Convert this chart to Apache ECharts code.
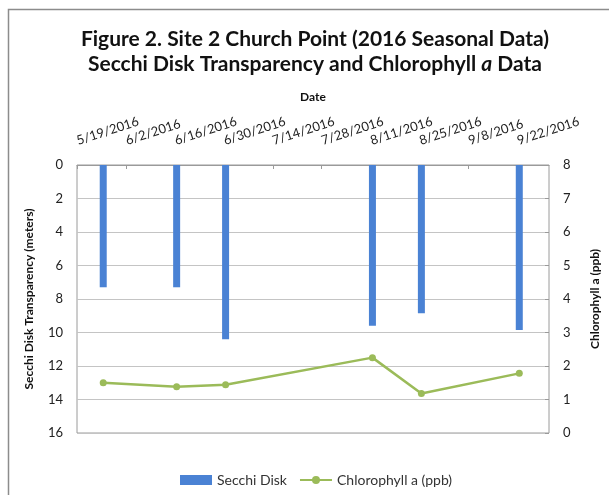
<!DOCTYPE html>
<html>
<head>
    <meta charset="utf-8">
    <script src="https://cdn.jsdelivr.net/npm/echarts@6/dist/echarts.min.js"></script>
    <style>
        html, body { margin: 0; padding: 0; background: #fff; }
        #chart { width: 609px; height: 495px; }
    </style>
</head>
<body>
    <div id="chart"></div>
<script type="text/javascript">
    // sampling dates and readings
    var sampleDates = ['5/26/2016', '6/16/2016', '6/30/2016', '8/11/2016', '8/25/2016', '9/22/2016'];
    var secchiDepth = [7.3, 7.3, 10.4, 9.6, 8.85, 9.85];
    var chlorophyll = [1.5, 1.38, 1.44, 2.25, 1.18, 1.78];

    // date axis: first tick date, tick step and range in days
    var axisStart = '5/19/2016';
    var tickDays = 14;
    var axisDays = 135;

    var depthTicks = [0, 16, 2];
    var chlTicks = [0, 8, 1];

    var DAY = 86400000;
    function parseDate(s) {
        var p = s.split('/');
        return Date.UTC(+p[2], +p[0] - 1, +p[1]);
    }
    var t0 = parseDate(axisStart);
    // position of a sample = middle of its day
    function dayPos(s) {
        return (parseDate(s) - t0) / DAY + 0.5;
    }
    function fmtDay(v) {
        var d = new Date(t0 + Math.round(v) * DAY);
        return (d.getUTCMonth() + 1) + '/' + d.getUTCDate() + '/' + d.getUTCFullYear();
    }

    var barData = sampleDates.map(function (s, i) { return [dayPos(s), secchiDepth[i]]; });
    var lineData = sampleDates.map(function (s, i) { return [dayPos(s), chlorophyll[i]]; });

    var FONT = 'Lato';
    var option = {
        backgroundColor: '#fff',
        textStyle: { fontFamily: FONT },
        animation: false,
        title: {
            text: 'Figure 2. Site 2 Church Point (2016 Seasonal Data)\n{n|Secchi Disk Transparency and Chlorophyll }{i|a}{n| Data}',
            left: 315,
            textAlign: 'center',
            top: 27,
            padding: 0,
            textStyle: {
                fontFamily: FONT, fontSize: 21, fontWeight: 'bold', color: '#111', lineHeight: 25,
                rich: {
                    n: { fontFamily: FONT, fontSize: 21, fontWeight: 'bold', color: '#111', lineHeight: 25 },
                    i: { fontFamily: FONT, fontSize: 21, fontWeight: 'bold', fontStyle: 'italic', color: '#111', lineHeight: 25 }
                }
            }
        },
        legend: {
            left: 175,
            top: 468,
            itemWidth: 32,
            itemHeight: 10,
            itemGap: 12,
            textStyle: { fontFamily: FONT, fontSize: 14, color: '#333' },
            data: [
                { name: 'Secchi Disk', icon: 'rect' },
                { name: 'Chlorophyll a (ppb)' }
            ]
        },
        grid: {
            left: 77, right: 43, top: 165, bottom: 62,
            show: true, borderColor: '#9a9a9a', borderWidth: 1
        },
        xAxis: {
            type: 'value',
            position: 'top',
            min: 0,
            max: axisDays,
            interval: tickDays,
            name: 'Date',
            nameLocation: 'middle',
            nameGap: 62,
            nameTextStyle: { fontFamily: FONT, fontSize: 12, fontWeight: 'bold', color: '#111' },
            axisLine: { show: true, lineStyle: { color: '#9a9a9a' } },
            axisTick: { show: true, inside: true, length: 4, lineStyle: { color: '#9a9a9a' } },
            splitLine: { show: false },
            axisLabel: {
                rotate: 18,
                margin: 24,
                showMinLabel: true,
                showMaxLabel: false,
                hideOverlap: false,
                fontSize: 13,
                color: '#222',
                formatter: fmtDay
            }
        },
        yAxis: [{
            type: 'value',
            inverse: true,
            min: depthTicks[0],
            max: depthTicks[1],
            interval: depthTicks[2],
            name: 'Secchi Disk Transparency (meters)',
            nameLocation: 'middle',
            nameGap: 42,
            nameTextStyle: { fontFamily: FONT, fontSize: 12, fontWeight: 'bold', color: '#111' },
            axisLine: { show: false },
            axisTick: { show: false },
            axisLabel: { fontSize: 13, color: '#222', margin: 14 },
            splitLine: { show: true, lineStyle: { color: '#c4c4c4' } }
        }, {
            type: 'value',
            min: chlTicks[0],
            max: chlTicks[1],
            interval: chlTicks[2],
            name: 'Chlorophyll a (ppb)',
            nameLocation: 'middle',
            nameGap: 40,
            nameTextStyle: { fontFamily: FONT, fontSize: 12, fontWeight: 'bold', color: '#111' },
            axisLine: { show: false },
            axisTick: { show: true, inside: true, length: 4, lineStyle: { color: '#9a9a9a' } },
            axisLabel: { fontSize: 13, color: '#222', margin: 14 },
            splitLine: { show: false }
        }],
        series: [{
            name: 'Secchi Disk',
            type: 'bar',
            yAxisIndex: 0,
            barWidth: 7,
            itemStyle: { color: '#4a82d4' },
            data: barData
        }, {
            name: 'Chlorophyll a (ppb)',
            type: 'line',
            yAxisIndex: 1,
            symbol: 'circle',
            symbolSize: 7,
            itemStyle: { color: '#9bbb59' },
            lineStyle: { color: '#9bbb59', width: 2.5 },
            data: lineData
        }],
        graphic: [{
            type: 'rect',
            shape: { x: 8.5, y: 9.5, width: 640, height: 520 },
            style: { fill: null, stroke: '#8c8c8c', lineWidth: 1.5 },
            silent: true
        }]
    };

    var chart = echarts.init(document.getElementById('chart'));
    chart.setOption(option);
</script>
</body>
</html>
